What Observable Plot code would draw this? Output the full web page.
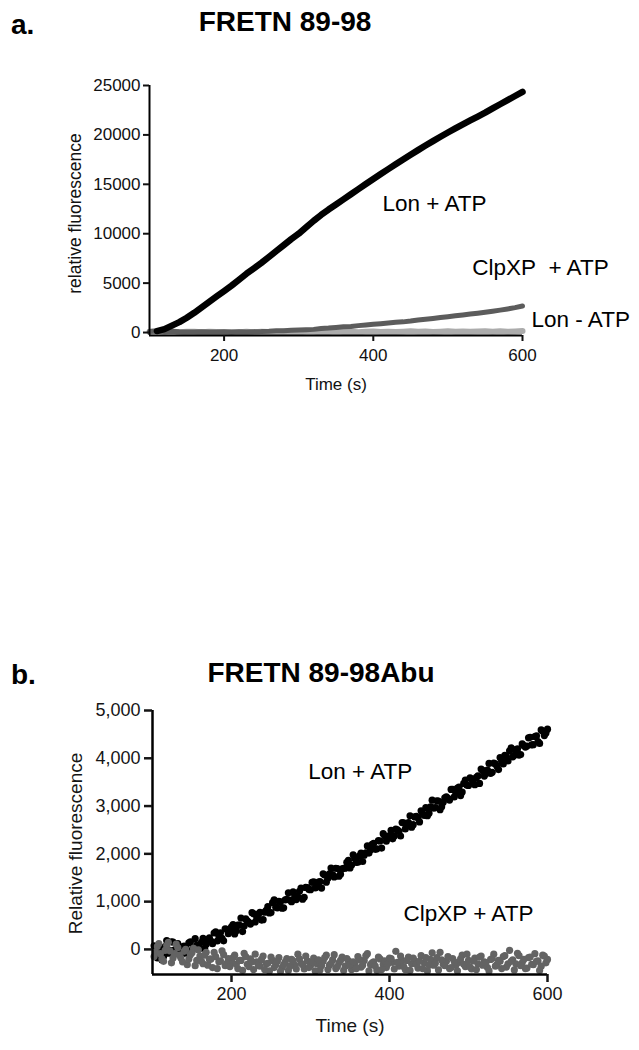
<!DOCTYPE html>
<html>
<head>
<meta charset="utf-8">
<script src="https://cdn.jsdelivr.net/npm/d3@7"></script>
<script src="https://cdn.jsdelivr.net/npm/@observablehq/plot@0.6"></script>
<style>
  html, body { margin: 0; padding: 0; background: #fff; }
  #root { position: relative; width: 639px; height: 1050px; background: #fff; font-family: 'Liberation Sans', Arial, sans-serif; color: #000; }
  .lbl { position: absolute; font-weight: bold; font-size: 28px; line-height: 28px; white-space: pre; }
  .ttl { position: absolute; width: 600px; text-align: center; font-weight: bold; font-size: 28px; line-height: 28px; white-space: pre; }
  .plot { position: absolute; left: 0; }
</style>
</head>
<body>
<div id="root">
  <div class="lbl" style="left:11px;top:11px">a.</div>
  <div class="ttl" style="left:-15px;top:8px">FRETN 89-98</div>
  <div class="lbl" style="left:11px;top:661px">b.</div>
  <div class="ttl" style="left:21px;top:659px">FRETN 89-98Abu</div>
  <div id="pa" class="plot" style="top:60px"></div>
  <div id="pb" class="plot" style="top:690px"></div>
</div>
<script>
// ---------- Panel a: FRETN 89-98 ----------
const aTime = [100,110,120,130,140,150,160,170,180,190,200,210,220,230,240,250,260,270,280,290,300,310,320,330,340,350,360,370,380,390,400,410,420,430,440,450,460,470,480,490,500,510,520,530,540,550,560,570,580,590,600];
const aLonATP = [null,150,350,700,1050,1500,2000,2550,3100,3650,4200,4750,5350,5950,6500,7050,7650,8250,8850,9450,10000,10650,11300,11900,12450,12950,13470,13990,14510,15030,15540,16040,16540,17030,17510,17990,18460,18920,19370,19810,20240,20660,21070,21470,21860,22250,22680,23100,23520,23940,24350];
const aClpXP = [100,150,100,120,80,60,50,80,60,50,80,40,70,60,90,100,130,180,170,220,250,280,320,400,450,520,580,620,700,760,830,900,960,1030,1080,1160,1260,1340,1430,1520,1600,1690,1780,1870,1960,2060,2160,2270,2390,2520,2680];
const aLonNoATP = [80,120,60,100,40,90,70,30,80,50,20,60,40,90,30,70,50,20,80,60,40,90,70,30,60,100,50,80,40,70,110,60,90,50,80,120,70,100,60,90,130,80,110,70,100,140,90,120,80,110,150];
const aXTicks = [200, 400, 600];
const aYTicks = [0, 5000, 10000, 15000, 20000, 25000];

// ---------- Panel b: FRETN 89-98Abu (two interleaved read-outs) ----------
const bTime1 = [104,108,112,116,120,124,128,132,136,140,144,148,152,156,160,164,168,172,176,180,184,188,192,196,200,204,208,212,216,220,224,228,232,236,240,244,248,252,256,260,264,268,272,276,280,284,288,292,296,300,304,308,312,316,320,324,328,332,336,340,344,348,352,356,360,364,368,372,376,380,384,388,392,396,400,404,408,412,416,420,424,428,432,436,440,444,448,452,456,460,464,468,472,476,480,484,488,492,496,500,504,508,512,516,520,524,528,532,536,540,544,548,552,556,560,564,568,572,576,580,584,588,592,596,600];
const bLonATP1 = [-150,80,-220,60,-80,160,-10,120,-30,70,-80,160,20,90,20,230,110,240,120,370,280,230,430,330,470,325,510,656,490,596,530,746,662,777,622,817,762,978,883,1008,863,1038,1184,999,1124,1099,1284,1090,1295,1250,1414,1307,1421,1584,1408,1582,1565,1699,1532,1686,1700,1863,1767,1910,1824,2018,1971,2165,2088,2222,2106,2269,2423,2266,2380,2314,2518,2472,2656,2520,2654,2558,2772,2756,2900,2804,2798,2982,2956,3110,2924,3078,3192,3126,3350,3274,3398,3292,3546,3430,3564,3447,3631,3774,3628,3752,3685,3899,3832,4016,3880,4033,4157,4030,4184,4068,4301,4235,4428,4282,4456,4349,4593,4476,4610];
const bClpXP1 = [-60,120,-200,-20,150,-280,-90,40,-180,-40,-320,-110,20,-230,-140,-300,-60,-210,-380,-150,-260,-30,-340,-190,-270,-120,-400,-230,-80,-310,-200,-420,-260,-350,-140,-300,-450,-230,-320,-170,-380,-260,-440,-210,-330,-100,-290,-410,-240,-340,-180,-300,-430,-250,-120,-330,-220,-400,-280,-160,-350,-240,-420,-300,-150,-370,-230,-90,-320,-260,-440,-200,-310,-380,-180,-270,-40,-350,-230,-420,-160,-300,-240,-390,-130,-280,-450,-210,-330,-170,-60,-310,-250,-400,-190,-330,-270,-120,-360,-230,-410,-180,-300,-140,-260,-380,-210,-100,-320,-250,-150,-370,-20,-220,-300,-130,-280,-400,-170,-310,-90,-240,-350,-140,-210];
const bTime2 = [102,106,110,114,118,122,126,130,134,138,142,146,150,154,158,162,166,170,174,178,182,186,190,194,198,202,206,210,214,218,222,226,230,234,238,242,246,250,254,258,262,266,270,274,278,282,286,290,294,298,302,306,310,314,318,322,326,330,334,338,342,346,350,354,358,362,366,370,374,378,382,386,390,394,398,402,406,410,414,418,422,426,430,434,438,442,446,450,454,458,462,466,470,474,478,482,486,490,494,498,502,506,510,514,518,522,526,530,534,538,542,546,550,554,558,562,566,570,574,578,582,586,590,594,598];
const bLonATP2 = [75,-175,15,-150,185,-20,155,-70,65,-90,45,135,-15,225,35,146,18,190,172,344,176,348,180,422,374,518,393,508,373,638,564,769,574,739,614,780,895,770,1035,870,996,871,1046,1031,1206,1042,1217,1052,1297,1252,1402,1285,1409,1283,1556,1490,1703,1517,1691,1574,1698,1822,1705,1979,1822,1956,1840,2023,2017,2200,2094,2277,2121,2375,2338,2492,2376,2500,2374,2648,2582,2796,2610,2784,2668,2842,2966,2850,3124,2968,3102,2986,3170,3164,3348,3192,3376,3220,3474,3438,3592,3475,3599,3473,3746,3680,3893,3707,3881,3764,3938,4061,3945,4219,4062,4196,4079,4263,4257,4440,4284,4467,4311,4565,4528];
const bClpXP2 = [-150,60,-90,-250,80,-30,-180,110,-120,-260,0,-200,-70,-340,-10,-250,-120,-330,-200,-60,-400,-240,-110,-290,-360,-170,-310,-230,-440,-150,-360,-260,-100,-330,-210,-420,-290,-160,-380,-250,-460,-320,-190,-350,-240,-410,-200,-320,-140,-380,-260,-450,-220,-340,-170,-420,-290,-110,-360,-230,-440,-190,-320,-260,-400,-220,-330,-130,-450,-280,-350,-160,-420,-240,-300,-190,-410,-270,-140,-360,-230,-440,-180,-310,-250,-400,-170,-330,-70,-290,-430,-220,-340,-150,-380,-260,-450,-200,-310,-100,-370,-240,-420,-160,-330,-280,-450,-190,-350,-230,-400,-130,-300,-250,-430,-80,-340,-210,-390,-160,-320,-250,-440,-120,-280];
const bXTicks = [200, 400, 600];
const bYTicks = [0, 1000, 2000, 3000, 4000, 5000];

const FONT = "'Liberation Sans', Arial, sans-serif";

const aData = aTime.map((t, i) => ({t, lon: aLonATP[i], clp: aClpXP[i], noatp: aLonNoATP[i]}));
const pair = (ts, vs) => ts.map((t, i) => ({t, v: vs[i]})).filter(d => d.v != null);
const bLon = pair(bTime1, bLonATP1).concat(pair(bTime2, bLonATP2));
const bClp = pair(bTime1, bClpXP1).concat(pair(bTime2, bClpXP2));

const plotA = Plot.plot({
  width: 639, height: 340,
  marginLeft: 149, marginRight: 117, marginTop: 25, marginBottom: 65,
  x: {domain: [100, 600]},
  y: {domain: [-300, 25000]},
  style: {fontFamily: FONT, fontSize: "17px", color: "#111", background: "transparent", overflow: "visible"},
  marks: [
    Plot.line(aData, {x: "t", y: "noatp", stroke: "#acacac", strokeWidth: 6}),
    Plot.line(aData, {x: "t", y: "clp", stroke: "#5c5c5c", strokeWidth: 5}),
    Plot.line(aData.filter(d => d.lon != null), {x: "t", y: "lon", stroke: "#000", strokeWidth: 6.5}),
    Plot.ruleX([100], {y1: -300, y2: 25000, stroke: "#000", strokeWidth: 2}),
    Plot.ruleY([-300], {x1: 100, x2: 600, stroke: "#000", strokeWidth: 2}),
    Plot.axisY({ticks: aYTicks, tickSize: 6, tickPadding: 3, tickFormat: d => String(d), strokeWidth: 2, label: null}),
    Plot.axisX({ticks: aXTicks, tickSize: 6, tickPadding: 7, tickFormat: d => String(d), strokeWidth: 2, label: null}),
    Plot.text(["relative fluorescence"], {text: d => d, frameAnchor: "left", textAnchor: "middle", lineAnchor: "middle", rotate: -90, dx: -74, dy: 3, fontSize: 17.5, fill: "#111"}),
    Plot.text(["Time (s)"], {text: d => d, frameAnchor: "bottom", textAnchor: "middle", dy: 54, fontSize: 17, fill: "#111"}),
    Plot.text(["Lon + ATP"], {text: d => d, x: 482, y: 13060, fontSize: 22.5, fill: "#000"}),
    Plot.text(["ClpXP\u00A0 + ATP"], {text: d => d, x: 624, y: 6580, fontSize: 22.5, fill: "#000"}),
    Plot.text(["Lon - ATP"], {text: d => d, x: 678, y: 1320, fontSize: 22.5, fill: "#000"})
  ]
});
document.getElementById("pa").appendChild(plotA);

const plotB = Plot.plot({
  width: 639, height: 360,
  marginLeft: 152, marginRight: 92, marginTop: 20, marginBottom: 76,
  x: {domain: [100, 600]},
  y: {domain: [-525, 5000]},
  style: {fontFamily: FONT, fontSize: "18px", color: "#151515", background: "transparent", overflow: "visible"},
  marks: [
    Plot.dot(bLon, {x: "t", y: "v", r: 3.6, fill: "#000"}),
    Plot.dot(bClp, {x: "t", y: "v", r: 3.6, fill: "#636363"}),
    Plot.ruleX([100], {y1: -525, y2: 5000, stroke: "#000", strokeWidth: 2.5}),
    Plot.ruleY([-525], {x1: 100, x2: 600, stroke: "#000", strokeWidth: 2.5}),
    Plot.axisY({ticks: bYTicks, tickSize: 8, tickPadding: 4, tickFormat: d3.format(","), strokeWidth: 2.5, label: null}),
    Plot.axisX({ticks: bXTicks, tickSize: 8, tickPadding: 5, tickFormat: d => String(d), strokeWidth: 2.5, label: null}),
    Plot.text(["Relative fluorescence"], {text: d => d, frameAnchor: "left", textAnchor: "middle", lineAnchor: "middle", rotate: -90, dx: -77, dy: 1, fontSize: 19, fill: "#151515"}),
    Plot.text(["Time (s)"], {text: d => d, frameAnchor: "bottom", textAnchor: "middle", dy: 57, fontSize: 19, fill: "#151515"}),
    Plot.text(["Lon + ATP"], {text: d => d, x: 363, y: 3720, fontSize: 22.5, fill: "#000"}),
    Plot.text(["ClpXP + ATP"], {text: d => d, x: 500, y: 750, fontSize: 22.5, fill: "#000"})
  ]
});
document.getElementById("pb").appendChild(plotB);
</script>
</body>
</html>
